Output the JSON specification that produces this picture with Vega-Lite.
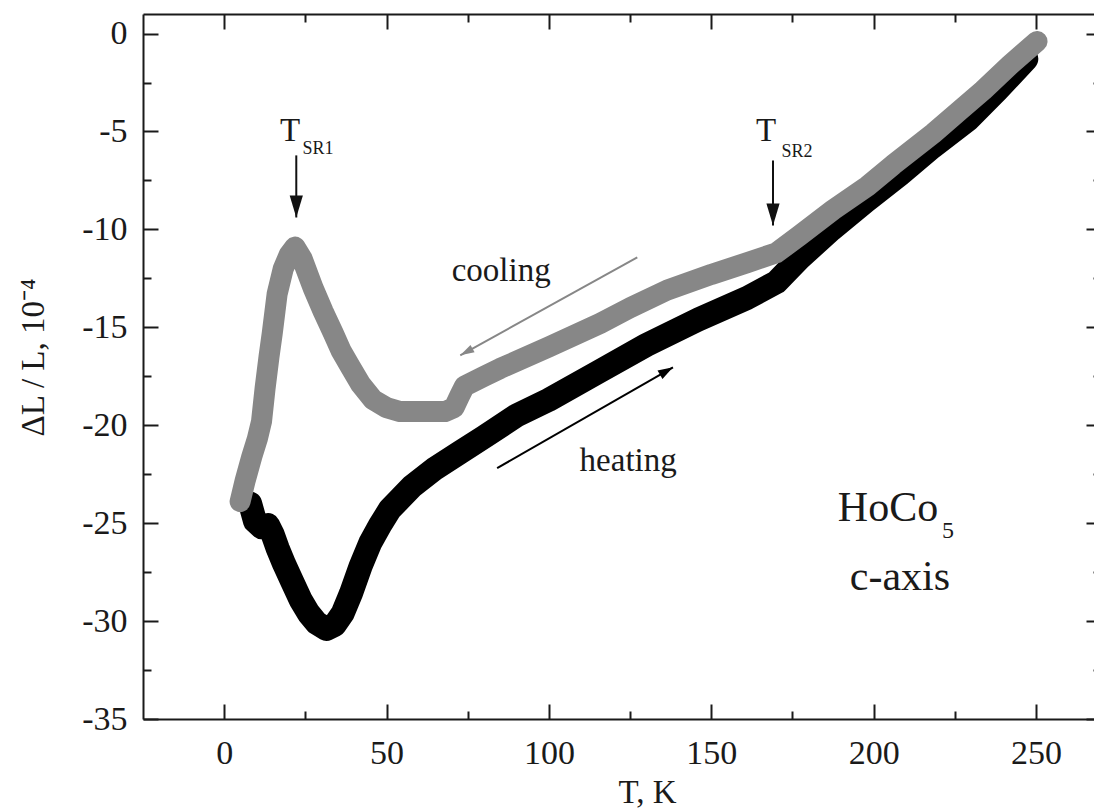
{
  "$schema": "https://vega.github.io/schema/vega-lite/v6.json",
  "width": 958,
  "height": 705,
  "autosize": {"type": "none"},
  "padding": {"left": 143, "top": 14, "right": -7, "bottom": 91},
  "background": "white",
  "config": {"view": {"stroke": null}, "font": "Liberation Serif"},
  "datasets": {
    "curves": [
      {"s": "heating", "i": 1, "T": 8.0, "v": -24.0},
      {"s": "heating", "i": 2, "T": 9.5, "v": -24.9},
      {"s": "heating", "i": 3, "T": 11.5, "v": -25.2},
      {"s": "heating", "i": 4, "T": 13.5, "v": -25.1},
      {"s": "heating", "i": 5, "T": 15.0, "v": -25.6},
      {"s": "heating", "i": 6, "T": 16.5, "v": -26.3},
      {"s": "heating", "i": 7, "T": 18.5, "v": -27.1},
      {"s": "heating", "i": 8, "T": 21.0, "v": -28.0},
      {"s": "heating", "i": 9, "T": 23.5, "v": -28.9},
      {"s": "heating", "i": 10, "T": 26.0, "v": -29.6},
      {"s": "heating", "i": 11, "T": 28.5, "v": -30.1},
      {"s": "heating", "i": 12, "T": 31.5, "v": -30.4},
      {"s": "heating", "i": 13, "T": 34.0, "v": -30.2},
      {"s": "heating", "i": 14, "T": 36.5, "v": -29.6},
      {"s": "heating", "i": 15, "T": 39.0, "v": -28.6},
      {"s": "heating", "i": 16, "T": 42.0, "v": -27.2},
      {"s": "heating", "i": 17, "T": 45.0, "v": -26.0},
      {"s": "heating", "i": 18, "T": 48.0, "v": -25.1},
      {"s": "heating", "i": 19, "T": 51.0, "v": -24.3},
      {"s": "heating", "i": 20, "T": 54.5, "v": -23.7},
      {"s": "heating", "i": 21, "T": 58.0, "v": -23.1},
      {"s": "heating", "i": 22, "T": 65.0, "v": -22.2},
      {"s": "heating", "i": 23, "T": 72.5, "v": -21.4},
      {"s": "heating", "i": 24, "T": 80.0, "v": -20.6},
      {"s": "heating", "i": 25, "T": 90.0, "v": -19.5},
      {"s": "heating", "i": 26, "T": 100.0, "v": -18.7},
      {"s": "heating", "i": 27, "T": 115.0, "v": -17.3},
      {"s": "heating", "i": 28, "T": 130.0, "v": -15.9},
      {"s": "heating", "i": 29, "T": 146.0, "v": -14.6},
      {"s": "heating", "i": 30, "T": 161.0, "v": -13.5},
      {"s": "heating", "i": 31, "T": 170.0, "v": -12.7},
      {"s": "heating", "i": 32, "T": 177.0, "v": -11.5},
      {"s": "heating", "i": 33, "T": 187.0, "v": -10.0},
      {"s": "heating", "i": 34, "T": 198.0, "v": -8.5},
      {"s": "heating", "i": 35, "T": 208.0, "v": -7.2},
      {"s": "heating", "i": 36, "T": 218.0, "v": -5.8},
      {"s": "heating", "i": 37, "T": 229.0, "v": -4.4},
      {"s": "heating", "i": 38, "T": 238.0, "v": -2.9},
      {"s": "heating", "i": 39, "T": 247.0, "v": -1.3},
      {"s": "cooling", "i": 1, "T": 4.9, "v": -23.9},
      {"s": "cooling", "i": 2, "T": 6.5, "v": -22.8},
      {"s": "cooling", "i": 3, "T": 8.5, "v": -21.6},
      {"s": "cooling", "i": 4, "T": 10.2, "v": -20.7},
      {"s": "cooling", "i": 5, "T": 11.5, "v": -19.8},
      {"s": "cooling", "i": 6, "T": 12.6, "v": -18.1},
      {"s": "cooling", "i": 7, "T": 13.8, "v": -16.5},
      {"s": "cooling", "i": 8, "T": 14.8, "v": -15.3},
      {"s": "cooling", "i": 9, "T": 16.3, "v": -13.3},
      {"s": "cooling", "i": 10, "T": 18.2, "v": -12.0},
      {"s": "cooling", "i": 11, "T": 20.0, "v": -11.3},
      {"s": "cooling", "i": 12, "T": 21.8, "v": -10.9},
      {"s": "cooling", "i": 13, "T": 24.0, "v": -11.5},
      {"s": "cooling", "i": 14, "T": 27.4, "v": -13.0},
      {"s": "cooling", "i": 15, "T": 30.5, "v": -14.2},
      {"s": "cooling", "i": 16, "T": 33.6, "v": -15.3},
      {"s": "cooling", "i": 17, "T": 36.0, "v": -16.2},
      {"s": "cooling", "i": 18, "T": 38.8, "v": -17.0},
      {"s": "cooling", "i": 19, "T": 42.0, "v": -17.9},
      {"s": "cooling", "i": 20, "T": 45.9, "v": -18.7},
      {"s": "cooling", "i": 21, "T": 50.0, "v": -19.1},
      {"s": "cooling", "i": 22, "T": 54.2, "v": -19.3},
      {"s": "cooling", "i": 23, "T": 60.0, "v": -19.3},
      {"s": "cooling", "i": 24, "T": 64.3, "v": -19.3},
      {"s": "cooling", "i": 25, "T": 68.0, "v": -19.3},
      {"s": "cooling", "i": 26, "T": 70.8, "v": -19.1},
      {"s": "cooling", "i": 27, "T": 72.5, "v": -18.5},
      {"s": "cooling", "i": 28, "T": 74.0, "v": -18.0},
      {"s": "cooling", "i": 29, "T": 80.0, "v": -17.5},
      {"s": "cooling", "i": 30, "T": 85.0, "v": -17.1},
      {"s": "cooling", "i": 31, "T": 100.0, "v": -16.0},
      {"s": "cooling", "i": 32, "T": 115.8, "v": -14.8},
      {"s": "cooling", "i": 33, "T": 125.0, "v": -14.0},
      {"s": "cooling", "i": 34, "T": 136.4, "v": -13.1},
      {"s": "cooling", "i": 35, "T": 150.0, "v": -12.3},
      {"s": "cooling", "i": 36, "T": 161.0, "v": -11.7},
      {"s": "cooling", "i": 37, "T": 170.0, "v": -11.2},
      {"s": "cooling", "i": 38, "T": 177.3, "v": -10.3},
      {"s": "cooling", "i": 39, "T": 187.5, "v": -9.0},
      {"s": "cooling", "i": 40, "T": 198.0, "v": -7.8},
      {"s": "cooling", "i": 41, "T": 206.0, "v": -6.7},
      {"s": "cooling", "i": 42, "T": 218.3, "v": -5.1},
      {"s": "cooling", "i": 43, "T": 226.0, "v": -4.0},
      {"s": "cooling", "i": 44, "T": 233.7, "v": -2.9},
      {"s": "cooling", "i": 45, "T": 242.0, "v": -1.6},
      {"s": "cooling", "i": 46, "T": 250.3, "v": -0.4}
    ],
    "arrows": [
      {"name": "T_SR1", "T": 22.2, "v": -6.22, "T2": 22.2, "v2": -9.39},
      {"name": "T_SR2", "T": 169.0, "v": -6.48, "T2": 169.0, "v2": -9.8},
      {"name": "cooling", "T": 127.2, "v": -11.43, "T2": 72.7, "v2": -16.43},
      {"name": "heating", "T": 84.05, "v": -22.19, "T2": 138.2, "v2": -17.04}
    ],
    "texts": [
      {"kind": "main", "T": 20.3, "v": -4.95, "text": "T"},
      {"kind": "sub", "T": 28.9, "v": -5.87, "text": "SR1"},
      {"kind": "main", "T": 166.9, "v": -4.95, "text": "T"},
      {"kind": "sub", "T": 176.4, "v": -6.07, "text": "SR2"},
      {"kind": "main", "T": 85.3, "v": -12.1, "text": "cooling"},
      {"kind": "main", "T": 124.4, "v": -21.8, "text": "heating"},
      {"kind": "mat", "T": 204.4, "v": -24.2, "text": "HoCo"},
      {"kind": "matsub", "T": 222.9, "v": -25.4, "text": "5"},
      {"kind": "mat", "T": 208.1, "v": -27.75, "text": "c-axis"}
    ]
  },
  "resolve": {"axis": {"x": "independent", "y": "independent"}},
  "layer": [
    {
      "data": {"name": "curves"},
      "transform": [{"filter": "datum.s === 'heating'"}],
      "mark": {"type": "line", "strokeWidth": 24, "strokeCap": "round", "strokeJoin": "round"},
      "encoding": {
        "x": {"field": "T", "type": "quantitative", "scale": {"domain": [-25, 270], "nice": false, "zero": false},
          "axis": {"orient": "bottom", "values": [0, 50, 100, 150, 200, 250], "grid": false, "tickSize": -15, "tickWidth": 2, "tickColor": "#1a1a1a", "domainWidth": 2, "domainColor": "#1a1a1a", "labelFont": "Liberation Serif", "labelFontSize": 34, "labelColor": "#1a1a1a", "labelPadding": 32, "labelFlush": false, "labelOverlap": false, "labelExpr": "'' + datum.value", "title": "T, K", "titleFont": "Liberation Serif", "titleFontSize": 33, "titleFontWeight": "normal", "titleColor": "#1a1a1a", "titleX": 504, "titleY": 83, "titleBaseline": "alphabetic", "titleAlign": "center"}},
        "y": {"field": "v", "type": "quantitative", "scale": {"domain": [-35, 1], "nice": false, "zero": false},
          "axis": {"orient": "left", "values": [-35, -30, -25, -20, -15, -10, -5, 0], "grid": false, "tickSize": -15, "tickWidth": 2, "tickColor": "#1a1a1a", "domainWidth": 2, "domainColor": "#1a1a1a", "labelFont": "Liberation Serif", "labelFontSize": 34, "labelColor": "#1a1a1a", "labelPadding": 31, "labelFlush": false, "labelOverlap": false, "labelExpr": "'' + datum.value", "title": "ΔL / L, 10⁻⁴", "titleFont": "Liberation Serif", "titleFontSize": 33, "titleFontWeight": "normal", "titleColor": "#1a1a1a", "titleX": -110, "titleY": 343, "titleAngle": -90, "titleBaseline": "middle", "titleAlign": "center"}},
        "color": {"field": "s", "type": "nominal", "scale": {"domain": ["heating", "cooling", "T_SR1", "T_SR2"], "range": ["#000000", "#878787", "#111111", "#111111"]}, "legend": null},
        "order": {"field": "i", "type": "quantitative"}
      }
    },
    {
      "data": {"name": "curves"},
      "transform": [{"filter": "datum.s === 'cooling'"}],
      "mark": {"type": "line", "strokeWidth": 21, "strokeCap": "round", "strokeJoin": "round"},
      "encoding": {
        "x": {"field": "T", "type": "quantitative", "scale": {"domain": [-25, 270], "nice": false, "zero": false},
          "axis": {"orient": "top", "values": [0, 50, 100, 150, 200, 250], "grid": false, "tickSize": -15, "tickWidth": 2, "tickColor": "#1a1a1a", "domainWidth": 2, "domainColor": "#1a1a1a", "labels": false, "title": null}},
        "y": {"field": "v", "type": "quantitative", "scale": {"domain": [-35, 1], "nice": false, "zero": false},
          "axis": {"orient": "right", "values": [-35, -30, -25, -20, -15, -10, -5, 0], "grid": false, "tickSize": -15, "tickWidth": 2, "tickColor": "#1a1a1a", "domainWidth": 2, "domainColor": "#1a1a1a", "labels": false, "title": null}},
        "color": {"field": "s", "type": "nominal", "legend": null},
        "order": {"field": "i", "type": "quantitative"}
      }
    },
    {
      "data": {"name": "arrows"},
      "mark": {"type": "rule", "strokeWidth": 2},
      "encoding": {
        "x": {"field": "T", "type": "quantitative", "scale": {"domain": [-25, 270], "nice": false, "zero": false},
          "axis": {"orient": "bottom", "values": [25, 75, 125, 175, 225], "grid": false, "tickSize": -8, "tickWidth": 2, "tickColor": "#1a1a1a", "domain": false, "labels": false, "title": null}},
        "x2": {"field": "T2"},
        "y": {"field": "v", "type": "quantitative", "scale": {"domain": [-35, 1], "nice": false, "zero": false},
          "axis": {"orient": "left", "values": [-32.5, -27.5, -22.5, -17.5, -12.5, -7.5, -2.5], "grid": false, "tickSize": -8, "tickWidth": 2, "tickColor": "#1a1a1a", "domain": false, "labels": false, "title": null}},
        "y2": {"field": "v2"},
        "color": {"field": "name", "type": "nominal", "legend": null}
      }
    },
    {
      "data": {"name": "arrows"},
      "transform": [{"filter": "datum.name === 'T_SR1' || datum.name === 'T_SR2'"}],
      "mark": {"type": "point", "shape": "M0,0L-0.3,1L0.3,1Z", "filled": true, "opacity": 1, "size": 1936, "angle": 180, "strokeWidth": 0},
      "encoding": {
        "x": {"field": "T2", "type": "quantitative", "scale": {"domain": [-25, 270], "nice": false, "zero": false},
          "axis": {"orient": "top", "values": [25, 75, 125, 175, 225], "grid": false, "tickSize": -8, "tickWidth": 2, "tickColor": "#1a1a1a", "domain": false, "labels": false, "title": null}},
        "y": {"field": "v2", "type": "quantitative", "scale": {"domain": [-35, 1], "nice": false, "zero": false},
          "axis": {"orient": "right", "values": [-32.5, -27.5, -22.5, -17.5, -12.5, -7.5, -2.5], "grid": false, "tickSize": -8, "tickWidth": 2, "tickColor": "#1a1a1a", "domain": false, "labels": false, "title": null}},
        "color": {"field": "name", "type": "nominal", "legend": null}
      }
    },
    {
      "data": {"name": "arrows"},
      "transform": [{"filter": "datum.name === 'cooling'"}],
      "mark": {"type": "point", "shape": "M0,0L-0.3,1L0.3,1Z", "filled": true, "opacity": 1, "size": 784, "angle": 241, "strokeWidth": 0},
      "encoding": {
        "x": {"field": "T2", "type": "quantitative", "scale": {"domain": [-25, 270], "nice": false, "zero": false}, "axis": null},
        "y": {"field": "v2", "type": "quantitative", "scale": {"domain": [-35, 1], "nice": false, "zero": false}, "axis": null},
        "color": {"field": "name", "type": "nominal", "legend": null}
      }
    },
    {
      "data": {"name": "arrows"},
      "transform": [{"filter": "datum.name === 'heating'"}],
      "mark": {"type": "point", "shape": "M0,0L-0.33,1L0.33,1Z", "filled": true, "opacity": 1, "size": 900, "angle": 60, "strokeWidth": 0},
      "encoding": {
        "x": {"field": "T2", "type": "quantitative", "scale": {"domain": [-25, 270], "nice": false, "zero": false}, "axis": null},
        "y": {"field": "v2", "type": "quantitative", "scale": {"domain": [-35, 1], "nice": false, "zero": false}, "axis": null},
        "color": {"field": "name", "type": "nominal", "legend": null}
      }
    },
    {
      "data": {"name": "texts"},
      "transform": [{"filter": "datum.kind === 'main'"}],
      "mark": {"type": "text", "font": "Liberation Serif", "fontSize": 33, "color": "#1a1a1a", "align": "center", "baseline": "middle"},
      "encoding": {
        "x": {"field": "T", "type": "quantitative", "scale": {"domain": [-25, 270], "nice": false, "zero": false}, "axis": null},
        "y": {"field": "v", "type": "quantitative", "scale": {"domain": [-35, 1], "nice": false, "zero": false}, "axis": null},
        "text": {"field": "text"}
      }
    },
    {
      "data": {"name": "texts"},
      "transform": [{"filter": "datum.kind === 'sub'"}],
      "mark": {"type": "text", "font": "Liberation Serif", "fontSize": 18, "color": "#1a1a1a", "align": "center", "baseline": "middle"},
      "encoding": {
        "x": {"field": "T", "type": "quantitative", "scale": {"domain": [-25, 270], "nice": false, "zero": false}, "axis": null},
        "y": {"field": "v", "type": "quantitative", "scale": {"domain": [-35, 1], "nice": false, "zero": false}, "axis": null},
        "text": {"field": "text"}
      }
    },
    {
      "data": {"name": "texts"},
      "transform": [{"filter": "datum.kind === 'mat'"}],
      "mark": {"type": "text", "font": "Liberation Serif", "fontSize": 42, "color": "#1a1a1a", "align": "center", "baseline": "middle"},
      "encoding": {
        "x": {"field": "T", "type": "quantitative", "scale": {"domain": [-25, 270], "nice": false, "zero": false}, "axis": null},
        "y": {"field": "v", "type": "quantitative", "scale": {"domain": [-35, 1], "nice": false, "zero": false}, "axis": null},
        "text": {"field": "text"}
      }
    },
    {
      "data": {"name": "texts"},
      "transform": [{"filter": "datum.kind === 'matsub'"}],
      "mark": {"type": "text", "font": "Liberation Serif", "fontSize": 24, "color": "#1a1a1a", "align": "center", "baseline": "middle"},
      "encoding": {
        "x": {"field": "T", "type": "quantitative", "scale": {"domain": [-25, 270], "nice": false, "zero": false}, "axis": null},
        "y": {"field": "v", "type": "quantitative", "scale": {"domain": [-35, 1], "nice": false, "zero": false}, "axis": null},
        "text": {"field": "text"}
      }
    }
  ]
}
